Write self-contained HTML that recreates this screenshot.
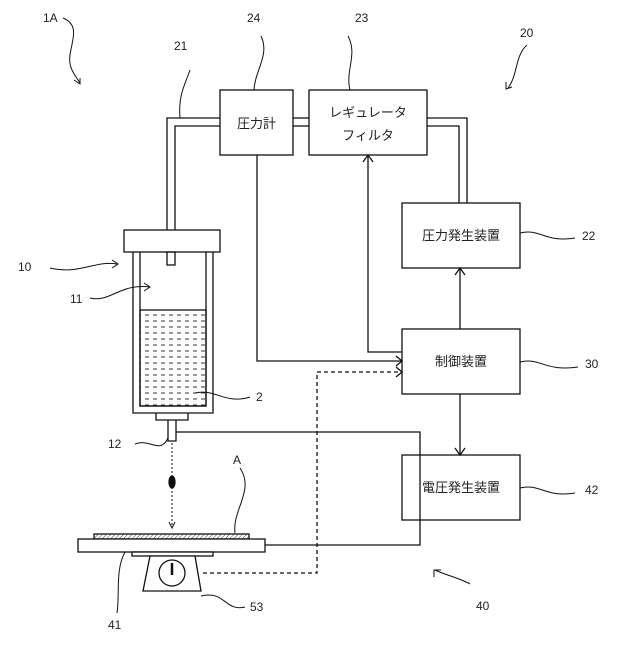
<!DOCTYPE html>
<html><head><meta charset="utf-8"><style>
html,body{margin:0;padding:0;background:#fff}
text{font-family:"Liberation Sans","Noto Sans CJK JP",sans-serif;fill:#222}
</style></head><body>
<svg width="640" height="640" viewBox="0 0 640 640" xmlns="http://www.w3.org/2000/svg">
<defs>
<pattern id="liq" width="8" height="6" patternUnits="userSpaceOnUse">
<line x1="1" y1="3" x2="5" y2="3" stroke="#333" stroke-width="1"/>
</pattern>
<pattern id="hat" width="3" height="3" patternUnits="userSpaceOnUse" patternTransform="rotate(45)">
<line x1="0" y1="0" x2="0" y2="3" stroke="#444" stroke-width="1"/>
</pattern>
</defs>
<g fill="none" stroke="#111" stroke-width="1.3">
<!-- pipes -->
<polyline points="167,230 167,118 220,118"/>
<polyline points="175,230 175,126 220,126"/>
<line x1="293" y1="118" x2="309" y2="118"/>
<line x1="293" y1="126" x2="309" y2="126"/>
<polyline points="427,118 467,118 467,203"/>
<polyline points="427,126 459,126 459,203"/>
<!-- boxes -->
<rect x="220" y="90" width="73" height="65" fill="#fff"/>
<rect x="309" y="90" width="118" height="65" fill="#fff"/>
<rect x="402" y="203" width="118" height="65" fill="#fff"/>
<rect x="402" y="329" width="118" height="65" fill="#fff"/>
<rect x="402" y="455" width="118" height="65" fill="#fff"/>
<!-- control lines -->
<polyline points="257,155 257,361 402,361"/>
<polyline points="396,356 402,361 396,366"/>
<polyline points="402,352 368,352 368,155"/>
<polyline points="363,162 368,155 373,162"/>
<line x1="460" y1="329" x2="460" y2="268"/>
<polyline points="455,275 460,268 465,275"/>
<line x1="460" y1="394" x2="460" y2="455"/>
<polyline points="455,448 460,455 465,448"/>
<polyline points="176,432 420,432 420,545 265,545"/>
<polyline points="203,573 317,573 317,372 402,372" stroke-dasharray="4,3"/>
<polyline points="396,367 402,372 396,377"/>
<!-- syringe -->
<rect x="124" y="230" width="96" height="22" fill="#fff"/>
<rect x="167" y="252" width="8" height="13"/>
<polyline points="133,252 133,413 213,413 213,252"/>
<polyline points="140,252 140,406 206,406 206,252"/>
<rect x="140" y="310" width="66" height="96" fill="url(#liq)" stroke="#111"/>
<polyline points="156,413 156,420 188,420 188,413"/>
<polyline points="168,420 168,441 176,441 176,420"/>
<!-- drop -->
<line x1="172" y1="443" x2="172" y2="527" stroke-dasharray="2,2" stroke-width="1"/>
<ellipse cx="172" cy="482" rx="3" ry="6" fill="#111"/>
<polyline points="169,522 172,528 175,522" stroke-width="1"/>
<!-- stage -->
<rect x="94" y="534" width="155" height="5" fill="url(#hat)"/>
<rect x="78" y="539" width="187" height="13" fill="#fff"/>
<rect x="132" y="552" width="81" height="4" fill="#fff"/>
<polygon points="150,556 195,556 201,591 143,591" fill="#fff"/>
<circle cx="172" cy="573" r="13"/>
<line x1="172" y1="563" x2="172" y2="575" stroke-width="2.5"/>
<!-- leaders -->
<g stroke-width="1">
<path d="M63,18 C80,25 72,40 70,55 C68,68 75,75 80,83"/>
<polyline points="74,80 80,84 80,78"/>
<path d="M190,70 C185,85 178,95 180,118"/>
<path d="M261,36 C270,55 255,70 254,90"/>
<path d="M348,36 C358,55 345,70 350,90"/>
<path d="M527,45 C515,55 518,75 508,88"/>
<polyline points="506,82 506,89 512,87"/>
<path d="M50,268 C80,275 95,260 117,264"/>
<polyline points="112,260 118,264 112,268"/>
<path d="M90,298 C110,303 120,283 150,287"/>
<polyline points="144,283 150,287 144,291"/>
<path d="M195,393 C215,388 225,405 250,397"/>
<path d="M135,444 C150,438 160,455 168,438"/>
<path d="M520,233 C540,228 545,243 575,238"/>
<path d="M520,362 C540,357 545,372 578,367"/>
<path d="M520,488 C540,483 545,498 575,493"/>
<path d="M240,468 C255,490 232,510 235,533"/>
<path d="M125,552 C115,570 120,595 117,613"/>
<path d="M201,596 C225,590 225,612 245,607"/>
<path d="M470,584 C460,578 445,575 435,570"/>
<polyline points="434,577 434,570 441,570"/>
</g>
</g>
<g font-size="12">
<text x="43" y="22">1A</text>
<text x="174" y="50">21</text>
<text x="247" y="22">24</text>
<text x="355" y="22">23</text>
<text x="520" y="37">20</text>
<text x="18" y="271">10</text>
<text x="70" y="303">11</text>
<text x="256" y="401">2</text>
<text x="108" y="448">12</text>
<text x="233" y="464">A</text>
<text x="582" y="240">22</text>
<text x="585" y="368">30</text>
<text x="585" y="494">42</text>
<text x="108" y="629">41</text>
<text x="250" y="611">53</text>
<text x="476" y="610">40</text>
</g>
<g font-size="13">
<text x="256.5" y="128" text-anchor="middle">圧力計</text>
<text x="368" y="117" text-anchor="middle">レギュレータ</text>
<text x="368" y="140" text-anchor="middle">フィルタ</text>
<text x="461" y="240" text-anchor="middle">圧力発生装置</text>
<text x="461" y="366" text-anchor="middle">制御装置</text>
<text x="461" y="492" text-anchor="middle">電圧発生装置</text>
</g>
</svg>
</body></html>
